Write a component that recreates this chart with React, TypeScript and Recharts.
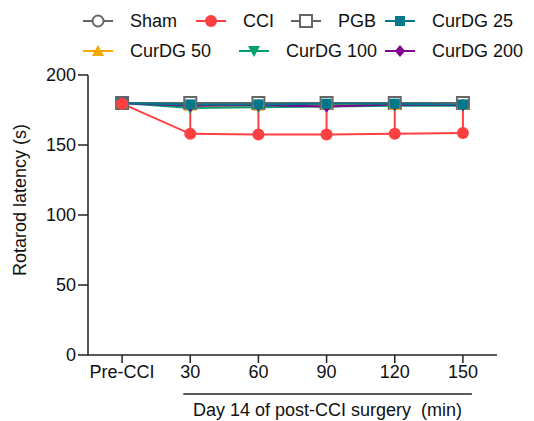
import React from 'react'
import { LineChart, Line, XAxis, YAxis, ErrorBar, Legend } from 'recharts'

const timepoints = ['Pre-CCI', '30', '60', '90', '120', '150']
const sham = [180, 180, 180, 180, 180, 180]
const cci = [179.5, 158, 157.5, 157.5, 158, 158.5]
const cciErr = [0, 21.5, 22, 22, 21.5, 21]
const pgb = [180, 180, 180, 180, 180, 180]
const curdg25 = [180, 179, 179, 179.5, 179.5, 179]
const curdg50 = [180, 178, 178, 179, 178.5, 179]
const curdg100 = [180, 176.5, 177, 177.5, 178, 178]
const curdg200 = [180, 178, 178.5, 177.5, 179, 178.5]
const yTicks = [0, 50, 100, 150, 200]

const data = timepoints.map((t, i) => ({
  t,
  sham: sham[i],
  cci: cci[i],
  cciErr: [0, cciErr[i]],
  pgb: pgb[i],
  curdg25: curdg25[i],
  curdg50: curdg50[i],
  curdg100: curdg100[i],
  curdg200: curdg200[i],
}))

type Shape = 'circleOpen' | 'circle' | 'squareOpen' | 'square' | 'triangle' | 'triangleDown' | 'diamond'

const series: { key: string; name: string; color: string; shape: Shape }[] = [
  { key: 'sham', name: 'Sham', color: '#666666', shape: 'circleOpen' },
  { key: 'pgb', name: 'PGB', color: '#666666', shape: 'squareOpen' },
  { key: 'curdg50', name: 'CurDG 50', color: '#f5a800', shape: 'triangle' },
  { key: 'curdg100', name: 'CurDG 100', color: '#00a070', shape: 'triangleDown' },
  { key: 'curdg200', name: 'CurDG 200', color: '#800090', shape: 'diamond' },
  { key: 'curdg25', name: 'CurDG 25', color: '#00788c', shape: 'square' },
  { key: 'cci', name: 'CCI', color: '#ff4040', shape: 'circle' },
]

const font = 'Liberation Sans, Arial, sans-serif'

function marker(shape: Shape, cx: number, cy: number, color: string, key?: any) {
  switch (shape) {
    case 'circleOpen':
      return <circle key={key} cx={cx} cy={cy} r={5.5} fill="#fff" stroke={color} strokeWidth={2} />
    case 'circle':
      return <circle key={key} cx={cx} cy={cy} r={6} fill={color} stroke="none" />
    case 'squareOpen':
      return <rect key={key} x={cx - 6} y={cy - 6} width={12} height={12} fill="#fff" stroke={color} strokeWidth={2} />
    case 'square':
      return <rect key={key} x={cx - 5} y={cy - 5} width={10} height={10} fill={color} />
    case 'triangle':
      return <path key={key} d={`M${cx},${cy - 6}L${cx + 6},${cy + 5}L${cx - 6},${cy + 5}Z`} fill={color} />
    case 'triangleDown':
      return <path key={key} d={`M${cx},${cy + 6}L${cx + 6},${cy - 5}L${cx - 6},${cy - 5}Z`} fill={color} />
    case 'diamond':
      return <path key={key} d={`M${cx},${cy - 6}L${cx + 5},${cy}L${cx},${cy + 6}L${cx - 5},${cy}Z`} fill={color} />
  }
}

const legendLayout: { key: string; left: number; top: number }[] = [
  { key: 'sham', left: 83, top: 6 },
  { key: 'cci', left: 196, top: 6 },
  { key: 'pgb', left: 291, top: 6 },
  { key: 'curdg25', left: 385, top: 6 },
  { key: 'curdg50', left: 83, top: 36 },
  { key: 'curdg100', left: 239, top: 36 },
  { key: 'curdg200', left: 385, top: 36 },
]

function LegendContent() {
  return (
    <div style={{ position: 'relative', width: 534, height: 70 }}>
      {legendLayout.map(l => {
        const s = series.find(x => x.key === l.key)!
        return (
          <div key={l.key} style={{ position: 'absolute', left: l.left, top: l.top, display: 'flex', alignItems: 'center', height: 30 }}>
            <svg width={30} height={30}>
              <line x1={0} y1={15} x2={30} y2={15} stroke={s.color} strokeWidth={2} />
              {marker(s.shape, 15, 15, s.color)}
            </svg>
            <span style={{ marginLeft: 17, fontSize: 18, color: '#111', fontFamily: font }}>{s.name}</span>
          </div>
        )
      })}
    </div>
  )
}

function XLabel(props: any) {
  const { x, y, width } = props.viewBox
  const band = width / timepoints.length
  const x1 = x + band * 1.5 - 7
  const x2 = x + band * 5.5 + 9
  return (
    <g>
      <line x1={x1} y1={y + 39} x2={x2} y2={y + 39} stroke="#222" strokeWidth={1.5} />
      <text x={(x1 + x2) / 2} y={y + 61} textAnchor="middle" fontSize={18} fill="#111" fontFamily={font} style={{ whiteSpace: 'pre' }}>
        Day 14 of post-CCI surgery  (min)
      </text>
    </g>
  )
}

function YLabel(props: any) {
  const { x, y, height } = props.viewBox
  const cx = x + 26
  const cy = y + height / 2 - 15
  return (
    <text x={cx} y={cy} transform={`rotate(-90 ${cx} ${cy})`} textAnchor="middle" fontSize={18} fill="#111" fontFamily={font}>
      Rotarod latency (s)
    </text>
  )
}

export default function App() {
  return (
    <div style={{ position: 'absolute', top: 0, left: 0, background: '#fff' }}>
      <LineChart width={534} height={421} data={data} margin={{ top: 5, right: 37, bottom: 0, left: 0 }}>
        <XAxis
          dataKey="t"
          scale="band"
          height={66}
          tickLine={{ stroke: '#222', strokeWidth: 1.5 }}
          axisLine={{ stroke: '#222', strokeWidth: 1.5 }}
          tickSize={8}
          tick={{ fontSize: 18, fill: '#111', fontFamily: font }}
          interval={0}
          label={<XLabel />}
        />
        <YAxis
          domain={[0, 200]}
          ticks={yTicks}
          width={88}
          tickLine={{ stroke: '#222', strokeWidth: 1.5 }}
          axisLine={{ stroke: '#222', strokeWidth: 1.5 }}
          tickSize={10}
          tick={{ fontSize: 18, fill: '#111', fontFamily: font }}
          label={<YLabel />}
        />
        <Legend content={<LegendContent />} verticalAlign="top" height={70} wrapperStyle={{ position: 'absolute', top: 0, left: 0, width: 534, height: 70 }} />
        {series.map(s => (
          <Line
            key={s.key}
            dataKey={s.key}
            name={s.name}
            stroke={s.color}
            strokeWidth={2}
            isAnimationActive={false}
            dot={(p: any) => marker(s.shape, p.cx, p.cy, s.color, p.index)}
            activeDot={false}
          >
            {s.key === 'cci' && <ErrorBar dataKey="cciErr" direction="y" width={0} stroke={s.color} strokeWidth={2} />}
          </Line>
        ))}
      </LineChart>
    </div>
  )
}
